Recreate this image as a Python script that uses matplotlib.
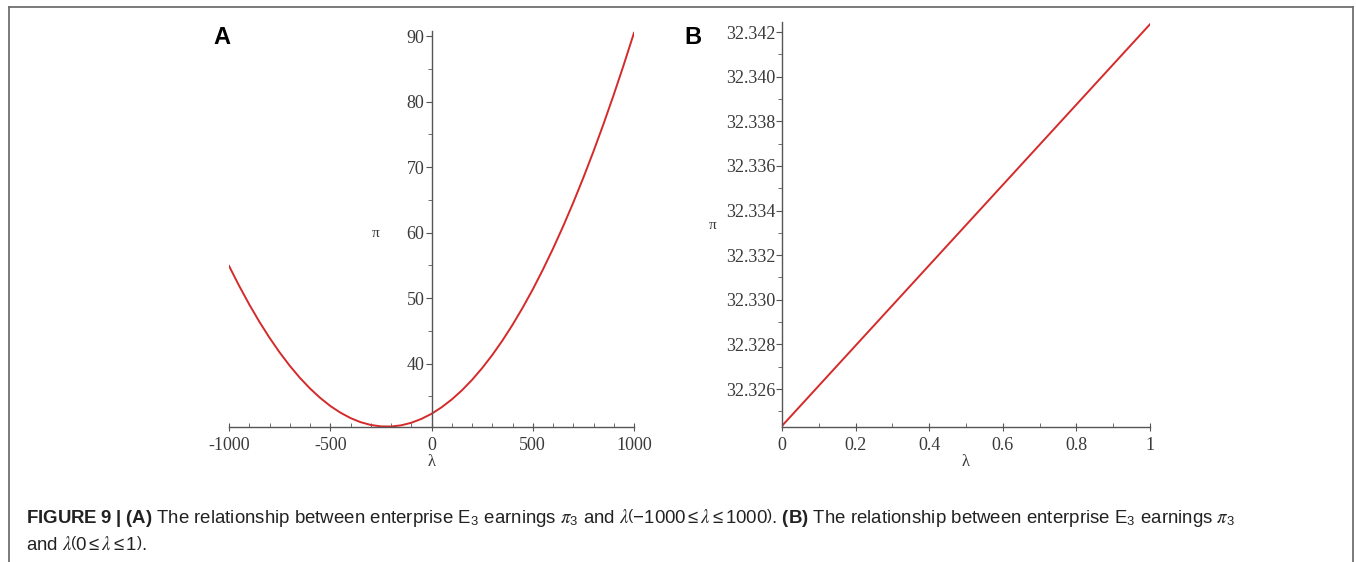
import matplotlib
matplotlib.use("Agg")
import matplotlib.pyplot as plt
from matplotlib.ticker import MultipleLocator, FormatStrFormatter
from matplotlib.lines import Line2D

# ── Data ──────────────────────────────────────────────────────────────────
lam_a = [-1000, -950, -900, -850, -800, -750, -700, -650, -600, -550,
         -500, -450, -400, -350, -300, -250, -200, -150, -100, -50,
         0, 50, 100, 150, 200, 250, 300, 350, 400, 450,
         500, 550, 600, 650, 700, 750, 800, 850, 900, 950, 1000]
pi_a = [54.92, 51.88, 49.03, 46.38, 43.94, 41.70, 39.66, 37.82, 36.19, 34.76,
        33.52, 32.50, 31.67, 31.04, 30.62, 30.40, 30.38, 30.56, 30.95, 31.54,
        32.32, 33.32, 34.51, 35.90, 37.50, 39.30, 41.30, 43.50, 45.91, 48.52,
        51.32, 54.34, 57.55, 60.96, 64.58, 68.40, 72.42, 76.64, 81.07, 85.70, 90.52]

lam_b = [0.0, 0.1, 0.2, 0.3, 0.4, 0.5, 0.6, 0.7, 0.8, 0.9, 1.0]
pi_b = [32.32435, 32.32615, 32.32795, 32.32975, 32.33155, 32.33335,
        32.33515, 32.33695, 32.33875, 32.34055, 32.34235]

caption_1 = (r"$\mathbf{FIGURE\ 9\ |\ (A)}$ The relationship between enterprise "
             r"E$_3$ earnings $\pi_3$ and $\lambda\left(-1000\leq\lambda\leq1000\right)$. "
             r"$\mathbf{(B)}$ The relationship between enterprise E$_3$ earnings $\pi_3$")
caption_2 = r"and $\lambda\left(0\leq\lambda\leq1\right)$."

W, H = 1356, 562
RED = "#d42a2a"
AXC = "#555555"
TXC = "#3a3a3a"

plt.rcParams["axes.unicode_minus"] = False
plt.rcParams["mathtext.fontset"] = "custom"
plt.rcParams["mathtext.rm"] = "Liberation Sans"
plt.rcParams["mathtext.bf"] = "Liberation Sans:bold"
plt.rcParams["mathtext.it"] = "STIXGeneral:italic"

fig = plt.figure(figsize=(W / 100, H / 100), dpi=100)


def px_axes(x0, x1, y_top, y_bot):
    return fig.add_axes([x0 / W, 1 - y_bot / H, (x1 - x0) / W, (y_bot - y_top) / H])


def style(ax):
    for s in ("top", "right"):
        ax.spines[s].set_visible(False)
    for s in ("left", "bottom"):
        ax.spines[s].set_color(AXC)
        ax.spines[s].set_linewidth(1.0)
    ax.tick_params(axis="x", which="major", direction="inout", length=6,
                   color=AXC, labelcolor=TXC, labelsize=13, pad=4)
    ax.tick_params(axis="x", which="minor", direction="in", length=3, color=AXC)
    ax.tick_params(axis="y", which="major", direction="out", length=4,
                   color=AXC, labelcolor=TXC, labelsize=13, pad=1)
    ax.tick_params(axis="y", which="minor", direction="out", length=3, color=AXC)
    for lab in ax.get_xticklabels() + ax.get_yticklabels():
        lab.set_fontfamily("Liberation Serif")
    ax.patch.set_alpha(0)


# ── Panel A ──────────────────────────────────────────────────────────────
axA = px_axes(229, 634, 31, 427.3)
axA.plot(lam_a, pi_a, color=RED, lw=1.4)
axA.set_xlim(-1000, 1000)
axA.set_ylim(30.26, 90.8)
axA.spines["left"].set_position(("data", 0))
axA.xaxis.set_major_locator(MultipleLocator(500))
axA.xaxis.set_minor_locator(MultipleLocator(100))
axA.yaxis.set_minor_locator(MultipleLocator(5))
axA.set_yticks([40, 50, 60, 70, 80, 90])
style(axA)
fig.text(432 / W, 1 - 462 / H, "λ", ha="center", va="center", fontsize=12,
         family="Liberation Serif", color=TXC)
fig.text(376 / W, 1 - 233 / H, "π", ha="center", va="center", fontsize=11,
         family="Liberation Serif", color=TXC)
fig.text(222 / W, 1 - 37 / H, "A", ha="center", va="center", fontsize=17,
         weight="bold", family="Liberation Sans")

# ── Panel B ──────────────────────────────────────────────────────────────
axB = px_axes(782, 1150, 22, 427)
axB.plot(lam_b, pi_b, color=RED, lw=1.4)
axB.set_xlim(0, 1)
axB.set_ylim(32.3243, 32.34245)
axB.xaxis.set_major_locator(MultipleLocator(0.2))
axB.xaxis.set_minor_locator(MultipleLocator(0.1))
axB.set_yticks([32.326, 32.328, 32.330, 32.332, 32.334, 32.336, 32.338, 32.340, 32.342])
axB.yaxis.set_minor_locator(MultipleLocator(0.001))
axB.yaxis.set_major_formatter(FormatStrFormatter("%.3f"))
axB.xaxis.set_major_formatter(FormatStrFormatter("%g"))
style(axB)
fig.text(966 / W, 1 - 462 / H, "λ", ha="center", va="center", fontsize=12,
         family="Liberation Serif", color=TXC)
fig.text(713 / W, 1 - 226 / H, "π", ha="center", va="center", fontsize=11,
         family="Liberation Serif", color=TXC)
fig.text(693 / W, 1 - 37 / H, "B", ha="center", va="center", fontsize=17,
         weight="bold", family="Liberation Sans")

# ── Caption and frame ────────────────────────────────────────────────────
fig.text(26 / W, 1 - 523 / H, caption_1, ha="left", va="baseline", fontsize=13.4,
         family="Liberation Sans", color="#222222")
fig.text(26 / W, 1 - 550 / H, caption_2, ha="left", va="baseline", fontsize=13.4,
         family="Liberation Sans", color="#222222")

fx0, fx1, fy = 8.5 / W, 1352.5 / W, 1 - 6.5 / H
for xs, ys in (([fx0, fx0], [-0.05, fy]), ([fx0, fx1], [fy, fy]), ([fx1, fx1], [fy, -0.05])):
    fig.add_artist(Line2D(xs, ys, color="#707070", lw=1.3))

fig.savefig("out.png", dpi=100)
